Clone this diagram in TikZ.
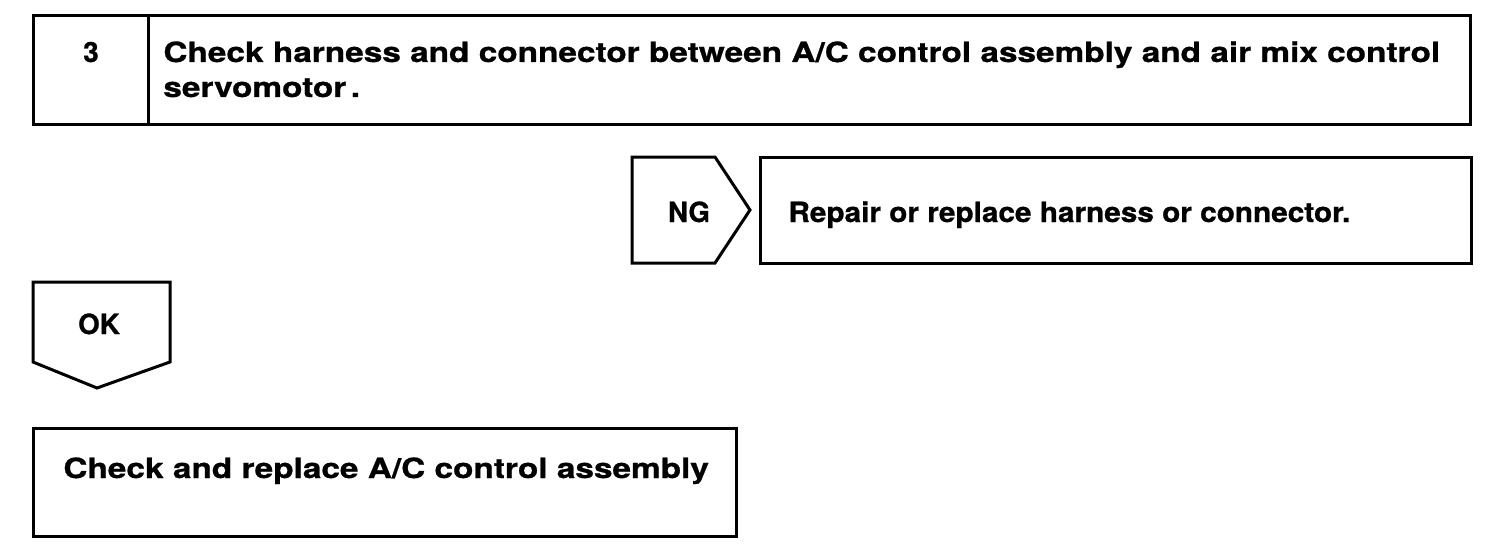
\documentclass[tikz,border=0pt]{standalone}
\usepackage{fontspec}
\setmainfont[FakeBold=0.8]{TeX Gyre Heros}
\newfontfamily\wideA[FakeStretch=1.2,FakeBold=0.8]{TeX Gyre Heros}
\newfontfamily\wideB[FakeStretch=1.07,FakeBold=0.8]{TeX Gyre Heros}
\newfontfamily\wideC[FakeStretch=1.2,FakeBold=0.8]{TeX Gyre Heros}
\begin{document}
\begin{tikzpicture}[x=0.5pt,y=-0.5pt,
  line/.style={draw=black,line width=1.5pt,line join=miter},
  txt/.style={inner sep=0pt,font=\bfseries\fontsize{13.9}{17.5}\selectfont}]
\useasboundingbox (0,0) rectangle (1504,556);
% top box
\coordinate (tnw) at (33,16);
\coordinate (tse) at (1470,125);
\draw[line] (tnw) rectangle (tse);
\coordinate (dtop) at (148,16);
\coordinate (dbot) at (148,125);
\draw[line] (dtop) -- (dbot);
\node[txt,anchor=base] (num) at (91,62) {3};
\node[txt,anchor=base west,font=\wideA\bfseries\fontsize{13.9}{17.5}\selectfont] (t1) at (163,62) {Check harness and connector between A/C control assembly and air mix control};
\node[txt,anchor=base west,font=\wideA\bfseries\fontsize{13.9}{17.5}\selectfont] (t2) at (163,97) {servomotor\,.};
% NG pentagon
\draw[line] (632,157) -- (715,157) -- (750,210) -- (715,263) -- (632,263) -- cycle;
\node[txt,anchor=base] (ng) at (689,222) {NG};
% repair box
\draw[line] (760,157) rectangle (1471,263);
\node[txt,anchor=base west,font=\wideB\bfseries\fontsize{13.9}{17.5}\selectfont] (rep) at (788,222) {Repair or replace harness or connector.};
% OK pentagon
\draw[line] (33,282) -- (170,282) -- (170,362) -- (97,388) -- (33,362) -- cycle;
\node[txt,anchor=base] (ok) at (99,334) {OK};
% bottom box
\draw[line] (33,428) rectangle (736,536);
\node[txt,anchor=base west,font=\wideC\bfseries\fontsize{13.9}{17.5}\selectfont] (chk) at (63,478) {Check and replace A/C control assembly};
\end{tikzpicture}
\end{document}
